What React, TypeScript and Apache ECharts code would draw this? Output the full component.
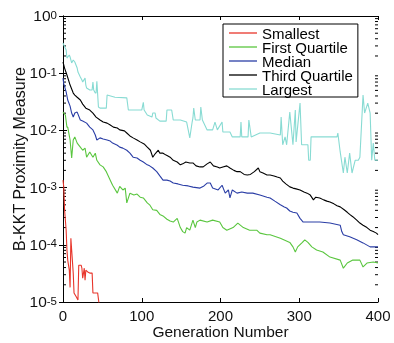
import React, { useEffect, useRef } from 'react';
import * as echarts from 'echarts';

const seriesNames = ['Smallest', 'First Quartile', 'Median', 'Third Quartile', 'Largest'];
const seriesColors = ['#e8352b', '#5ac63f', '#2b3ea6', '#000000', '#88dbd3'];

const smallest = [[0,0.00135],[1,0.00102],[2,0.00041],[4,0.00018],[5,0.000081],[6,0.000054],[8,0.000036],[9,0.000018],[10,0.00013],[11,0.000081],[13,0.000032],[14,0.0000144],[17,0.0000122],[19,0.0000108],[20,0.000044],[23,0.000044],[24,0.000039],[25,0.000026],[27,0.000039],[28,0.000024],[29,0.000036],[32,0.000033],[34,0.000032],[37,0.000032],[38,0.0000144],[44,0.0000144],[46,0.0000088]];

const firstQuartile = [[0,0.0209],[3,0.0186],[5,0.0114],[6,0.0114],[9,0.0068],[11,0.0033],[13,0.0068],[15,0.0077],[18,0.006],[22,0.0051],[25,0.0045],[28,0.0049],[30,0.0034],[34,0.0042],[38,0.0034],[41,0.004],[43,0.003],[47,0.0025],[51,0.0023],[55,0.0019],[60,0.00135],[63,0.0011],[69,0.0008],[72,0.00105],[76,0.00091],[79,0.00098],[81,0.00054],[85,0.0008],[90,0.00074],[94,0.00077],[98,0.00068],[102,0.00066],[107,0.00054],[110,0.0005],[114,0.00041],[119,0.0004],[123,0.00034],[127,0.00032],[132,0.00028],[136,0.00026],[140,0.00025],[145,0.00029],[149,0.0002],[152,0.00017],[155,0.00016],[157,0.0002],[161,0.00018],[165,0.00027],[168,0.0002],[170,0.00025],[174,0.00027],[183,0.00025],[190,0.00027],[199,0.00025],[203,0.0002],[208,0.00018],[216,0.0002],[222,0.00024],[229,0.0002],[237,0.00018],[246,0.00018],[250,0.00016],[259,0.00015],[263,0.00015],[276,0.00013],[288,0.00011],[292,0.000092],[295,0.000075],[298,0.000092],[304,0.00011],[307,0.000122],[311,0.00011],[316,0.000092],[322,0.000081],[330,0.000075],[339,0.000061],[352,0.000054],[356,0.000039],[361,0.000048],[368,0.000054],[377,0.000054],[381,0.000041],[386,0.000048],[394,0.00005],[400,0.000048]];

const median = [[0,0.082],[1,0.065],[4,0.047],[6,0.034],[9,0.0266],[11,0.0201],[13,0.0171],[15,0.0201],[18,0.0209],[22,0.0152],[25,0.0146],[30,0.0134],[34,0.0114],[38,0.0102],[41,0.0083],[43,0.0068],[47,0.0074],[51,0.0071],[56,0.0068],[60,0.0065],[63,0.006],[69,0.0055],[72,0.0051],[76,0.0049],[81,0.0045],[85,0.004],[89,0.0034],[94,0.0033],[98,0.003],[102,0.0028],[107,0.0025],[110,0.0024],[114,0.0022],[119,0.0019],[123,0.0016],[127,0.00135],[132,0.00135],[136,0.0013],[140,0.0012],[146,0.00116],[152,0.0011],[159,0.00107],[165,0.00102],[174,0.00098],[179,0.00107],[183,0.0012],[187,0.0012],[190,0.00098],[197,0.00091],[202,0.0011],[206,0.0008],[210,0.00091],[212,0.00066],[215,0.00091],[221,0.0008],[227,0.00084],[234,0.0008],[241,0.0008],[250,0.00074],[259,0.00068],[263,0.00066],[269,0.00058],[276,0.0005],[281,0.00046],[284,0.00044],[288,0.00039],[292,0.00037],[297,0.00036],[301,0.00029],[305,0.00025],[314,0.00025],[326,0.00025],[339,0.00024],[352,0.00022],[354,0.00017],[356,0.00015],[364,0.000138],[373,0.000122],[381,0.000108],[390,0.000092],[400,0.000092]];

const thirdQuartile = [[0,0.157],[2,0.123],[5,0.093],[9,0.062],[13,0.045],[15,0.0415],[18,0.038],[22,0.034],[25,0.0288],[29,0.0245],[34,0.0227],[38,0.0201],[42,0.0171],[47,0.0152],[51,0.014],[56,0.0134],[60,0.0124],[64,0.0114],[69,0.011],[72,0.0102],[78,0.0098],[81,0.009],[85,0.008],[89,0.0074],[94,0.0068],[98,0.0063],[103,0.0058],[107,0.0051],[111,0.0045],[114,0.0034],[117,0.0039],[121,0.0045],[123,0.004],[127,0.004],[131,0.0037],[136,0.0034],[140,0.003],[145,0.0028],[149,0.0025],[152,0.0026],[156,0.0028],[161,0.0027],[165,0.0027],[169,0.0024],[174,0.0023],[178,0.0023],[183,0.0026],[187,0.0028],[191,0.0024],[196,0.0023],[199,0.0022],[203,0.0023],[208,0.0024],[212,0.0022],[217,0.002],[221,0.0019],[225,0.0019],[230,0.0017],[234,0.00166],[238,0.0017],[243,0.0019],[248,0.0022],[250,0.0019],[254,0.0018],[259,0.00166],[263,0.00166],[268,0.0016],[272,0.00153],[276,0.00147],[279,0.0013],[283,0.00116],[288,0.00103],[292,0.00098],[296,0.00095],[301,0.00091],[306,0.00084],[310,0.0008],[314,0.00074],[318,0.00061],[321,0.00068],[326,0.00066],[331,0.00061],[335,0.00058],[339,0.00056],[344,0.00052],[348,0.00048],[352,0.00046],[357,0.00041],[361,0.00037],[364,0.00034],[368,0.00031],[373,0.00027],[377,0.00024],[381,0.00022],[386,0.0002],[390,0.00018],[394,0.00017],[398,0.00016],[400,0.00015]];

const largest = [[0,0.337],[1,0.311],[4,0.254],[5,0.184],[8,0.208],[9,0.192],[11,0.151],[13,0.17],[15,0.157],[18,0.123],[19,0.105],[22,0.086],[24,0.076],[25,0.07],[28,0.082],[29,0.062],[30,0.055],[34,0.051],[37,0.051],[38,0.07],[39,0.051],[41,0.045],[42,0.045],[43,0.072],[45,0.0256],[47,0.0245],[55,0.0245],[56,0.0415],[66,0.038],[81,0.037],[83,0.0227],[100,0.0227],[102,0.031],[103,0.0227],[107,0.0186],[113,0.0171],[114,0.0201],[117,0.0201],[118,0.0165],[123,0.0145],[131,0.0145],[132,0.0227],[138,0.0227],[140,0.0152],[149,0.0152],[157,0.014],[159,0.0102],[161,0.0074],[164,0.014],[165,0.0165],[166,0.0245],[168,0.0152],[174,0.0152],[175,0.0256],[177,0.0152],[183,0.0102],[190,0.0102],[193,0.014],[196,0.0102],[202,0.014],[203,0.0094],[212,0.0094],[215,0.0077],[225,0.0077],[226,0.014],[227,0.0077],[235,0.0077],[236,0.0152],[239,0.0077],[250,0.009],[263,0.009],[276,0.0083],[277,0.0171],[279,0.0056],[282,0.0077],[284,0.0056],[288,0.0209],[292,0.0056],[295,0.0227],[296,0.0063],[301,0.03],[303,0.0056],[311,0.0056],[312,0.003],[314,0.003],[315,0.0077],[348,0.0077],[349,0.009],[352,0.0042],[356,0.0018],[358,0.0034],[361,0.0018],[364,0.004],[367,0.0018],[371,0.003],[375,0.003],[377,0.0034],[381,0.0415],[383,0.0201],[387,0.03],[390,0.0201],[392,0.003],[394,0.006],[396,0.003],[400,0.003]];

const xMin = 0;
const xMax = 400;
const xInterval = 100;
const yMin = 1e-5;
const yMax = 1;
const minorTickValues = [
  2e-5, 3e-5, 4e-5, 5e-5, 6e-5, 7e-5, 8e-5, 9e-5,
  2e-4, 3e-4, 4e-4, 5e-4, 6e-4, 7e-4, 8e-4, 9e-4,
  2e-3, 3e-3, 4e-3, 5e-3, 6e-3, 7e-3, 8e-3, 9e-3,
  2e-2, 3e-2, 4e-2, 5e-2, 6e-2, 7e-2, 8e-2, 9e-2,
  2e-1, 3e-1, 4e-1, 5e-1, 6e-1, 7e-1, 8e-1, 9e-1,
];

const FONT = '"Liberation Sans", Arial, Helvetica, sans-serif';

export default function App() {
  const ref = useRef<HTMLDivElement>(null);
  useEffect(() => {
    if (!ref.current) return;
    const chart = echarts.init(ref.current, null, { renderer: 'svg' });
    const allData = [smallest, firstQuartile, median, thirdQuartile, largest];
    const lineSeries = allData.map((d, i) => ({
      name: seriesNames[i],
      type: 'line',
      data: d,
      symbol: 'none',
      showSymbol: false,
      clip: true,
      xAxisIndex: 0,
      yAxisIndex: 0,
      lineStyle: { color: seriesColors[i], width: 1.1 },
      itemStyle: { color: seriesColors[i] },
      emphasis: { disabled: true },
    }));
    const tickCommon = {
      axisLine: { show: true, lineStyle: { color: '#000', width: 1 } },
      splitLine: { show: false },
    };
    const option: any = {
      animation: false,
      textStyle: { fontFamily: FONT },
      grid: { left: 63, top: 16, right: 16, bottom: 41, containLabel: false, outerBoundsMode: 'none' },
      legend: {
        data: seriesNames,
        orient: 'vertical',
        left: 223,
        top: 24,
        padding: [1.5, 5, 0.5, 6],
        itemGap: -1,
        itemWidth: 28,
        itemHeight: 1.3,
        icon: 'rect',
        backgroundColor: '#fff',
        borderColor: '#000',
        borderWidth: 1,
        borderRadius: 0,
        selectedMode: false,
        textStyle: { fontFamily: FONT, fontSize: 15, color: '#000' },
      },
      xAxis: [
        {
          type: 'value',
          min: xMin,
          max: xMax,
          interval: xInterval,
          position: 'bottom',
          ...tickCommon,
          axisTick: { show: true, inside: true, length: 4, lineStyle: { color: '#000' } },
          axisLabel: { show: true, margin: 6, fontSize: 15, color: '#111', fontFamily: FONT },
          name: 'Generation Number',
          nameLocation: 'middle',
          nameGap: 21.5,
          nameMoveOverlap: false,
          nameTextStyle: { fontSize: 15.5, color: '#111', fontFamily: FONT },
        },
        {
          type: 'value',
          min: xMin,
          max: xMax,
          interval: xInterval,
          position: 'top',
          ...tickCommon,
          axisTick: { show: true, inside: true, length: 4, lineStyle: { color: '#000' } },
          axisLabel: { show: false },
        },
      ],
      yAxis: [
        {
          type: 'log',
          logBase: 10,
          min: yMin,
          max: yMax,
          splitNumber: 5,
          position: 'left',
          ...tickCommon,
          axisTick: { show: true, inside: true, length: 4, lineStyle: { color: '#000' } },
          axisLabel: {
            show: true,
            margin: 6,
            showMinLabel: true,
            showMaxLabel: true,
            formatter: (v: number) => `{b|10}{s|${Math.round(Math.log10(v))}}`,
            rich: {
              b: { fontSize: 15.5, lineHeight: 15, padding: [5, 0, 0, 0], verticalAlign: 'bottom', color: '#111', fontFamily: FONT },
              s: { fontSize: 11.5, lineHeight: 11, verticalAlign: 'top', color: '#111', fontFamily: FONT },
            },
          },
          name: 'B-KKT Proximity Measure',
          nameLocation: 'middle',
          nameGap: 36,
          nameMoveOverlap: false,
          nameRotate: 90,
          nameTextStyle: { fontSize: 16, color: '#111', fontFamily: FONT },
        },
        {
          type: 'log',
          logBase: 10,
          min: yMin,
          max: yMax,
          splitNumber: 5,
          position: 'right',
          ...tickCommon,
          axisTick: { show: true, inside: true, length: 4, lineStyle: { color: '#000' } },
          axisLabel: { show: false },
        },
      ],
      series: [
        {
          type: 'custom',
          name: 'minorTicks',
          silent: true,
          clip: false,
          xAxisIndex: 0,
          yAxisIndex: 0,
          data: minorTickValues.map((v) => [xMin, v]),
          renderItem: (params: any, api: any) => {
            const v = api.value(1);
            const l = api.coord([xMin, v]);
            const r = api.coord([xMax, v]);
            return {
              type: 'group',
              children: [
                { type: 'line', shape: { x1: l[0], y1: l[1], x2: l[0] + 3, y2: l[1] }, style: { stroke: '#000', lineWidth: 1 } },
                { type: 'line', shape: { x1: r[0], y1: r[1], x2: r[0] - 3, y2: r[1] }, style: { stroke: '#000', lineWidth: 1 } },
              ],
            };
          },
        },
        ...lineSeries,
      ],
    };
    chart.setOption(option);
    return () => chart.dispose();
  }, []);
  return <div ref={ref} style={{ position: 'fixed', left: 0, top: 0, width: 394, height: 343 }} />;
}
